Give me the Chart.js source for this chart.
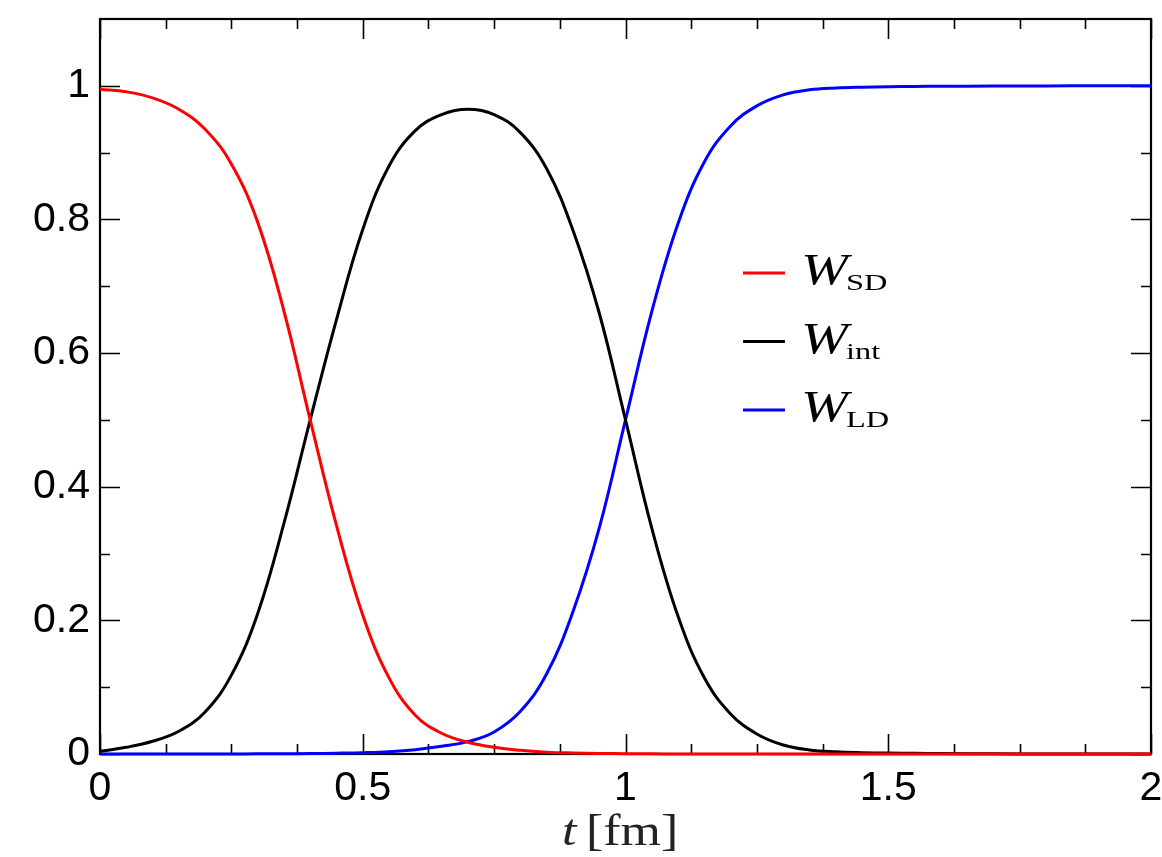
<!DOCTYPE html>
<html><head><meta charset="utf-8">
<script src="https://cdn.jsdelivr.net/npm/chart.js@4"></script>
<style>html,body{margin:0;padding:0;background:#fff;}#wrap{width:1162px;height:857px;position:relative;}</style>
</head><body><div id="wrap"><canvas id="c"></canvas></div>
<script>
// ---- data ----
const tValues = [0,0.05,0.10,0.15,0.20,0.25,0.30,0.35,0.40,0.45,0.50,0.55,0.60,0.65,0.70,0.75,0.80,0.85,0.90,0.95,1.00,1.05,1.10,1.15,1.20,1.25,1.30,1.35,1.40,1.45,1.50,1.55,1.60,1.70,1.80,1.90,2.00];
const wSD  = [0.995,0.991,0.982,0.965,0.935,0.883,0.796,0.663,0.500,0.342,0.208,0.114,0.058,0.031,0.0175,0.010,0.0055,0.0028,0.0015,0.0008,0.0004,0.0002,0.0001,0,0,0,0,0,0,0,0,0,0,0,0,0,0];
const wInt = [0.004,0.010,0.019,0.034,0.063,0.118,0.210,0.345,0.500,0.650,0.785,0.880,0.933,0.957,0.965,0.957,0.930,0.876,0.784,0.660,0.500,0.338,0.206,0.114,0.060,0.030,0.0135,0.006,0.0032,0.0020,0.0014,0.0010,0.0007,0.0003,0.0001,0,0];
const wLD  = [0,0,0,0,0,0,0.0002,0.0004,0.0007,0.0012,0.002,0.0035,0.0065,0.0115,0.0185,0.033,0.064,0.120,0.213,0.338,0.500,0.662,0.794,0.886,0.940,0.970,0.9865,0.994,0.9968,0.998,0.9986,0.999,0.9993,0.9997,0.9999,1.0,1.0];
const xTickValues = [0,0.5,1,1.5,2];
const yTickValues = [0,0.2,0.4,0.6,0.8,1];
const xMinorValues = [0.125,0.25,0.375,0.625,0.75,0.875,1.125,1.25,1.375,1.625,1.75,1.875];
const yMinorValues = [0.1,0.3,0.5,0.7,0.9];
const seriesMain = ['W','W','W'];
const seriesSub = ['SD','int','LD'];
const seriesColors = ['#ff0000','#000000','#0000ff'];
const xTitleVar = 't';
const xTitleUnit = '[fm]';

function pts(arr){ return tValues.map((t,i)=>({x:t,y:arr[i]})); }

function stretchedText(ctx,text,x,y,sx){
  ctx.save(); ctx.translate(x,y); ctx.scale(sx,1); ctx.fillText(text,0,0); ctx.restore();
}

const framePlugin = {
  id:'frame',
  beforeDatasetsDraw(chart){
    const {ctx, chartArea:a, scales:{x,y}} = chart;
    ctx.save();
    ctx.strokeStyle='#000';
    ctx.beginPath();
    const tick=(len,vals,isX)=>{
      vals.forEach(v=>{
        if(isX){
          const px=Math.round(x.getPixelForValue(v))+0.5;
          ctx.moveTo(px,a.bottom); ctx.lineTo(px,a.bottom-len);
          ctx.moveTo(px,a.top); ctx.lineTo(px,a.top+len);
        } else {
          const py=Math.round(y.getPixelForValue(v))+0.5;
          ctx.moveTo(a.left,py); ctx.lineTo(a.left+len,py);
          ctx.moveTo(a.right,py); ctx.lineTo(a.right-len,py);
        }
      });
    };
    ctx.lineWidth=1.6;
    tick(20,xTickValues,true); tick(10,xMinorValues,true);
    tick(20,yTickValues,false); tick(10,yMinorValues,false);
    ctx.stroke();
    ctx.lineWidth=2.2;
    ctx.strokeRect(a.left,a.top,a.right-a.left,a.bottom-a.top);
    ctx.restore();
  },
  afterDraw(chart){
    const ctx=chart.ctx;
    ctx.save();
    const ly=[273,341.5,410];
    seriesColors.forEach((c,i)=>{
      ctx.strokeStyle=c; ctx.lineWidth=3;
      ctx.beginPath(); ctx.moveTo(743,ly[i]); ctx.lineTo(785,ly[i]); ctx.stroke();
      ctx.fillStyle='#000'; ctx.textBaseline='alphabetic'; ctx.textAlign='left';
      ctx.font='italic 45px "Liberation Serif"';
      stretchedText(ctx,seriesMain[i],801,ly[i]+11,1.25);
      ctx.font='24px "Liberation Serif"';
      stretchedText(ctx,seriesSub[i],846,ly[i]+17,1.35);
    });
    ctx.fillStyle='#222';
    ctx.font='italic 44px "Liberation Serif"';
    stretchedText(ctx,xTitleVar,562,845,1.18);
    ctx.font='44px "Liberation Serif"';
    stretchedText(ctx,xTitleUnit,586,845,1.18);
    ctx.restore();
  }
};

function noPad(s){ s.paddingLeft=0; s.paddingRight=0; s.paddingTop=0; s.paddingBottom=0; }

new Chart(document.getElementById('c'),{
  type:'line',
  data:{datasets:[
    {label:'W_SD',data:pts(wSD),borderColor:seriesColors[0]},
    {label:'W_int',data:pts(wInt),borderColor:seriesColors[1]},
    {label:'W_LD',data:pts(wLD),borderColor:seriesColors[2]}
  ]},
  options:{
    responsive:true, maintainAspectRatio:false, animation:false,
    layout:{padding:{left:0,right:11,top:19,bottom:0}},
    elements:{point:{radius:0},line:{borderWidth:3,tension:0.4,fill:false,capBezierPoints:true}},
    datasets:{line:{clip:4}},
    plugins:{legend:{display:false},tooltip:{enabled:false}},
    scales:{
      x:{type:'linear',min:0,max:2,
        grid:{display:false,drawTicks:false},border:{display:false},
        afterBuildTicks:s=>{s.ticks=xTickValues.map(v=>({value:v}));},
        afterFit:s=>{s.height=103; noPad(s);},
        ticks:{padding:10,color:'#000',font:{family:'"Liberation Sans"',size:41},maxRotation:0,autoSkip:false,callback:v=>String(v)}},
      y:{type:'linear',min:0,max:1.1,
        grid:{display:false,drawTicks:false},border:{display:false},
        afterBuildTicks:s=>{s.ticks=yTickValues.map(v=>({value:v}));},
        afterFit:s=>{s.width=100; noPad(s);},
        ticks:{padding:10,color:'#000',font:{family:'"Liberation Sans"',size:41},autoSkip:false,callback:v=>String(v)}}
    }
  },
  plugins:[framePlugin]
});
</script></body></html>
